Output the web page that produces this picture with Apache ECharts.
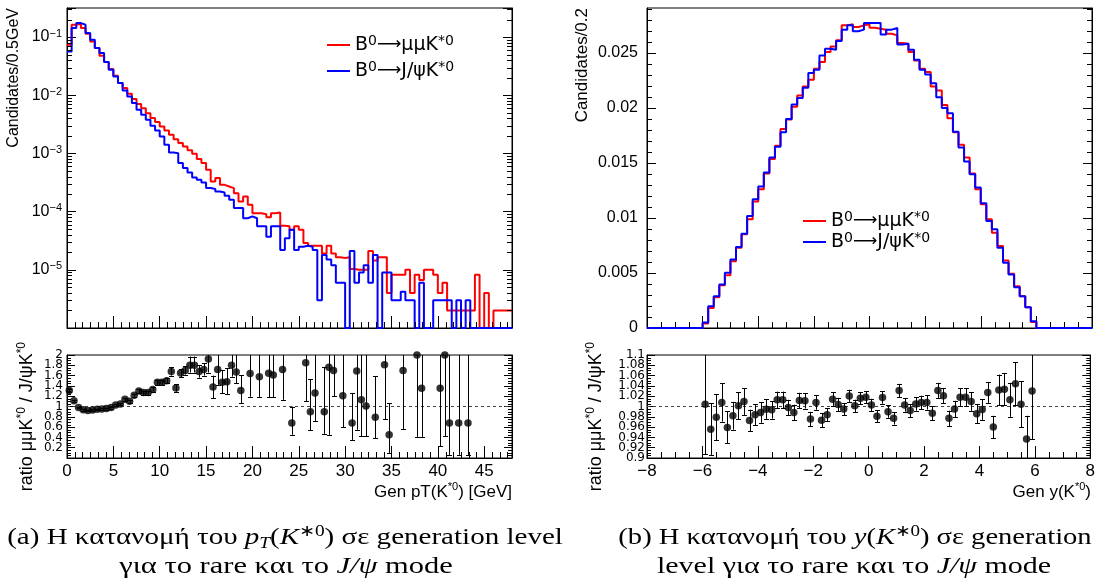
<!DOCTYPE html>
<html><head><meta charset="utf-8">
<script src="https://cdn.jsdelivr.net/npm/echarts@6/dist/echarts.min.js"></script>
<style>html,body{margin:0;padding:0;background:#fff;}#c{width:1098px;height:583px;}</style>
</head><body><div id="c"></div>
<script>
// ---------------- DATA ----------------
// pT histogram: 96 bins of 0.5 GeV from 0 to 48
const ptBinLow = 0, ptBinWidth = 0.5;
const ptRare = [0.0738,0.163,0.170,0.143,0.114,0.0843,0.0648,0.0478,0.0372,0.0282,
0.0216,0.0162,0.0133,0.0106,0.00859,0.00705,0.00601,0.00493,0.00405,0.00346,
0.00291,0.00248,0.00209,0.00176,0.00151,0.00132,0.00113,0.000987,0.000799,0.000682,
0.000524,0.00033,0.000377,0.000289,0.000271,0.000254,0.000208,0.00015,0.000182,0.000131,
9.4e-5,9.4e-5,9.0e-5,8.0e-5,9.4e-5,9.7e-5,5.7e-5,5.6e-5,4.9e-5,5.6e-5,
4.9e-5,2.9e-5,2.6e-5,2.6e-5,2.6e-5,1.9e-5,2.6e-5,1.9e-5,1.65e-5,1.6e-5,
1.65e-5,1.03e-5,1.0e-5,1.0e-5,1.0e-5,2.1e-5,1.45e-5,1.65e-5,1.65e-5,4.0e-6,
8.2e-6,8.2e-6,8.2e-6,1.0e-5,4.0e-6,8.2e-6,6.7e-6,1.0e-5,1.0e-5,8.2e-6,
4.0e-6,6.0e-6,2.0e-6,2.0e-6,2.0e-6,2.0e-6,2.0e-6,2.0e-6,8.2e-6,0,
4.0e-6,0,2.0e-6,2.0e-6,2.0e-6,2.0e-6];
const ptJpsi = [0.0568,0.143,0.174,0.163,0.117,0.090,0.0648,0.0531,0.0372,0.0274,
0.0211,0.0162,0.0121,0.00955,0.00733,0.00563,0.00462,0.00379,0.00299,0.00248,
0.00196,0.00141,0.00104,0.00101,0.000682,0.00056,0.000471,0.000386,0.000352,0.000317,
0.000254,0.000244,0.000222,0.000214,0.000187,0.00016,0.000115,0.000115,7.7e-5,8.3e-5,
7.7e-5,5.6e-5,5.6e-5,3.7e-5,5.6e-5,5.6e-5,2.2e-5,3.5e-5,4.9e-5,2.2e-5,
2.5e-5,2.6e-5,2.5e-5,2.2e-5,3.0e-6,1.8e-5,1.5e-5,1.2e-5,6.0e-6,6.0e-6,
0,2.1e-5,6.0e-6,9.0e-6,1.2e-5,6.0e-6,1.8e-5,0,9.0e-6,9.0e-6,
3.0e-6,3.0e-6,4.2e-6,3.0e-6,3.0e-6,0,6.0e-6,0,0,3.0e-6,
3.0e-6,3.0e-6,3.0e-6,0,3.0e-6,0,3.0e-6,0,0,0,
0,0,0,0,0,0];

// y histogram: 80 bins of 0.2 from -8 to 8
const yBinLow = -8, yBinWidth = 0.2;
const yRare = [0,0,0,0,0,0,0,0,0,0,
0.0004,0.00182,0.0028,0.00389,0.0048,0.00608,0.0073,0.00852,0.00988,0.0115,
0.01262,0.01405,0.01536,0.01658,0.0181,0.01895,0.02013,0.02114,0.02196,0.02257,
0.02357,0.02418,0.0251,0.0256,0.02616,0.02752,0.02762,0.02737,0.02752,0.02762,
0.02731,0.02722,0.02713,0.02676,0.02661,0.02591,0.02585,0.02509,0.02433,0.02357,
0.02327,0.02196,0.02159,0.02029,0.01907,0.01779,0.01667,0.01551,0.01405,0.01262,
0.01125,0.00988,0.00867,0.00745,0.00614,0.00493,0.0038,0.00289,0.00189,0.00055,
0,0,0,0,0,0,0,0,0,0];
const yJpsi = [0,0,0,0,0,0,0,0,0,0,
0.0005,0.00198,0.00289,0.00395,0.00502,0.00623,0.00736,0.00858,0.01019,0.01171,
0.01286,0.01414,0.01551,0.01648,0.01779,0.01901,0.02032,0.02092,0.02184,0.02318,
0.02348,0.02479,0.0254,0.0253,0.0261,0.02713,0.02752,0.02698,0.02713,0.02774,
0.02774,0.02774,0.0267,0.02713,0.02728,0.02579,0.02585,0.0253,0.02439,0.02348,
0.02305,0.02226,0.02099,0.02001,0.01953,0.01785,0.01642,0.01515,0.01399,0.01277,
0.01134,0.00973,0.00897,0.0073,0.00593,0.00487,0.00371,0.00289,0.00189,0.00061,
0,0,0,0,0,0,0,0,0,0];

// pT ratio points (x, value, lower end, upper end)
const ptRatioX = [0.25,0.75,1.25,1.75,2.25,2.75,3.25,3.75,4.25,4.75,5.25,5.75,6.25,6.75,7.25,7.75,8.25,8.75,9.25,9.75,
10.25,10.75,11.25,11.75,12.25,12.75,13.25,13.75,14.25,14.75,15.25,15.75,16.25,16.75,17.25,17.75,18.25,18.75,
19.75,20.75,21.75,22.25,23.25,24.25,25.75,26.25,26.75,27.75,28.25,28.75,29.75,30.75,31.25,31.75,32.25,33.25,
34.25,34.75,36.25,37.75,38.25,40.25,40.75,41.25,42.25,43.25];
const ptRatio = [1.31,1.11,0.98,0.935,0.92,0.93,0.945,0.95,0.96,0.98,
1.03,1.05,1.14,1.10,1.22,1.30,1.27,1.27,1.33,1.47,
1.47,1.50,1.68,1.36,1.65,1.70,1.80,1.80,1.68,1.72,
1.92,1.38,1.72,1.47,1.48,1.80,1.67,1.31,
1.64,1.58,1.645,1.61,1.72,0.68,1.85,0.90,1.26,0.90,1.76,1.70,1.21,0.68,1.69,1.13,1.01,0.79,1.81,0.45,1.70,2.0,1.355,1.355,2.0,0.68,0.68,0.68];
const ptRatioLo = [1.28,1.09,0.965,0.92,0.905,0.915,0.93,0.935,0.94,0.96,
1.01,1.03,1.11,1.07,1.19,1.26,1.23,1.23,1.29,1.42,
1.42,1.45,1.60,1.29,1.57,1.62,1.66,1.66,1.56,1.60,
1.66,1.16,1.42,1.26,1.24,1.58,1.45,1.06,
1.19,1.18,1.18,1.18,1.13,0.45,1.1,0.54,0.71,0.47,0.45,1.2,0.6,0.35,0.55,0.42,0.42,0.39,0.75,0.1,0.56,0.41,0.41,0.23,0.42,0.06,0.06,0.06];
const ptRatioHi = [1.34,1.13,0.995,0.95,0.935,0.945,0.96,0.965,0.98,1.0,
1.05,1.07,1.17,1.13,1.25,1.34,1.31,1.31,1.37,1.52,
1.52,1.56,1.76,1.43,1.73,1.78,1.97,1.97,1.80,1.84,
2.2,1.60,2.1,1.71,1.74,2.1,2.0,1.61,
2.2,2.2,2.2,2.2,2.3,1.0,2.6,1.53,2.2,1.77,2.5,2.5,2.2,1.26,2.5,2.2,2.2,1.59,2.5,1.06,2.5,3,2.5,2.5,3,2.5,2.5,2.5];

// y ratio points at bin centres from -5.9 to 5.9
const yRatioFirst = -5.9;
const yRatio = [1.0045,0.956,0.979,1.0077,0.9594,0.982,1.0013,1.0097,0.9729,0.984,
0.9884,0.9948,0.9935,1.0129,1.0129,0.998,0.9884,1.0116,1.011,0.9755,
1.0077,0.9735,0.984,1.0142,1.004,0.995,1.0206,1.0013,1.0161,1.018,
1.003,0.981,1.0174,0.990,0.977,1.031,1.003,0.992,1.005,1.008,
1.008,0.987,1.031,1.021,0.977,0.995,1.018,1.018,1.0097,0.986,
0.994,1.027,0.960,1.032,1.0335,1.013,1.044,1.0045,0.937,1.030];
const yRatioErr = [0.097,0.05,0.045,0.037,0.031,0.027,0.026,0.026,0.021,0.02,
0.02,0.019,0.017,0.016,0.016,0.015,0.015,0.015,0.015,0.014,
0.014,0.014,0.013,0.013,0.013,0.012,0.012,0.012,0.012,0.012,
0.012,0.012,0.012,0.012,0.012,0.013,0.013,0.013,0.013,0.013,
0.014,0.014,0.015,0.015,0.015,0.016,0.017,0.017,0.018,0.019,
0.02,0.02,0.022,0.03,0.031,0.033,0.042,0.045,0.045,0.093];

// axis ranges and ratio tick labels
const ptRange = [0, 48], yRange = [-8, 8];
const logRange = [1e-6, 0.3162];
const yHistMax = 0.0291;
const ratioPtRange = [0, 2], ratioYRange = [0.9, 1.1];
const ratioPtLabels = ['0.2','0.4','0.6','0.8','1','1.2','1.4','1.6','1.8','2'];
const ratioYLabels = ['0.9','0.92','0.94','0.96','0.98','1','1.02','1.04','1.06','1.08','1.1'];

// ---------------- HELPERS ----------------
const FONT = "'Liberation Sans', Arial, Helvetica, sans-serif";
const DV = "'DejaVu Sans', sans-serif";
const SERIF = "'Liberation Serif', 'Times New Roman', serif";
const RED = '#ff0000', BLUE = '#0000ff';
const NAME_RARE = 'B0→μμK*0', NAME_JPSI = 'B0→J/ψK*0';

function stepPoints(lo, w, vals, floor) {
  const pts = vals.map((v, i) => [+(lo + i * w).toFixed(6), floor != null ? Math.max(v, floor) : v]);
  pts.push([+(lo + vals.length * w).toFixed(6), pts[pts.length - 1][1]]);
  return pts;
}
function tickSeries(xi, yi, items) {
  return {
    type: 'custom', xAxisIndex: xi, yAxisIndex: yi, silent: true, clip: false, z: 5,
    data: items,
    renderItem: function (params, api) {
      const p = api.coord([api.value(0), api.value(1)]);
      const dx = api.value(2), dy = api.value(3);
      let x1 = p[0], y1 = p[1];
      if (dx === 0) x1 = Math.round(x1) + 0.5; else y1 = Math.round(y1) + 0.5;
      return { type: 'line', shape: { x1: x1, y1: y1, x2: x1 + dx, y2: y1 + dy },
        style: { stroke: '#000', lineWidth: 1 } };
    }
  };
}
// y-axis tick labels for the ratio pads, placed through the axis scale
function labelSeries(xi, yi, xPos, labels, gap) {
  return {
    type: 'custom', xAxisIndex: xi, yAxisIndex: yi, silent: true, clip: false, z: 5,
    data: labels.map((t) => [xPos, parseFloat(t)]),
    renderItem: function (params, api) {
      const p = api.coord([api.value(0), api.value(1)]);
      return { type: 'text', x: p[0] - gap, y: p[1],
        style: { text: labels[params.dataIndex], fontSize: 12, fontFamily: DV, fill: '#000', align: 'right', verticalAlign: 'middle' } };
    }
  };
}
function errSeries(xi, yi, items) {
  return {
    type: 'custom', xAxisIndex: xi, yAxisIndex: yi, silent: true, clip: true, z: 6,
    data: items,
    renderItem: function (params, api) {
      const x = api.value(0);
      const pl = api.coord([x, api.value(1)]), ph = api.coord([x, api.value(2)]);
      const cs = params.coordSys;
      const X = Math.round(pl[0]) + 0.5;
      const ch = [{ type: 'line', shape: { x1: X, y1: ph[1], x2: X, y2: pl[1] }, style: { stroke: '#000', lineWidth: 1 } }];
      if (ph[1] > cs.y + 1) ch.push({ type: 'line', shape: { x1: X - 2.5, y1: Math.round(ph[1]) + 0.5, x2: X + 2.5, y2: Math.round(ph[1]) + 0.5 }, style: { stroke: '#000', lineWidth: 1 } });
      if (pl[1] < cs.y + cs.height - 1) ch.push({ type: 'line', shape: { x1: X - 2.5, y1: Math.round(pl[1]) + 0.5, x2: X + 2.5, y2: Math.round(pl[1]) + 0.5 }, style: { stroke: '#000', lineWidth: 1 } });
      return { type: 'group', children: ch };
    }
  };
}

// minor tick positions (axis decoration)
const tk0 = [], tk1 = [], tk2 = [], tk3 = [];
for (let i = 1; i * 5 / 6 < ptRange[1]; i++) if (i % 6) { tk0.push([i * 5 / 6, logRange[0], 0, -6]); tk1.push([i * 5 / 6, 0, 0, -6]); }
for (let d = -6; d <= -1; d++) for (let m = 2; m <= 9; m++) { const v = m * Math.pow(10, d); if (v < logRange[1]) { tk0.push([ptRange[0], v, 5, 0]); tk0.push([ptRange[1], v, -5, 0]); } }
for (let i = 1; i < 40; i++) if (i % 4) { tk1.push([ptRange[0], i * 0.05, 4, 0]); tk1.push([ptRange[1], i * 0.05, -4, 0]); }
for (let i = 1; i < 32; i++) if (i % 4) { tk2.push([yRange[0] + i * 0.5, 0, 0, -6]); tk3.push([yRange[0] + i * 0.5, ratioYRange[0], 0, -6]); }
for (let i = 1; i * 0.001 < yHistMax; i++) if (i % 5) { tk2.push([yRange[0], i * 0.001, 5, 0]); tk2.push([yRange[1], i * 0.001, -5, 0]); }
for (let i = 1; i < 40; i++) if (i % 4) { const v = ratioYRange[0] + i * 0.005; tk3.push([yRange[0], v, 4, 0]); tk3.push([yRange[1], v, -4, 0]); }

// ---------------- OPTION ----------------
const axisBase = { axisLine: { show: true, onZero: false, lineStyle: { color: '#000', width: 1 } }, splitLine: { show: false } };
function xAx(grid, range, interval, labels, fmt, showMax) {
  return Object.assign({}, axisBase, {
    type: 'value', gridIndex: grid, min: range[0], max: range[1], interval: interval,
    axisTick: { show: true, inside: true, length: 12, lineStyle: { color: '#000' } },
    axisLabel: { show: labels, color: '#000', fontSize: 17, fontFamily: FONT, margin: 5, formatter: fmt, showMinLabel: true, showMaxLabel: showMax }
  });
}
function yAx(grid, type, range, interval, pos, labels, len, lab) {
  const a = Object.assign({}, axisBase, {
    type: type, gridIndex: grid, position: pos, min: range[0], max: range[1],
    axisTick: { show: true, inside: true, length: len, lineStyle: { color: '#000' } },
    axisLabel: Object.assign({ show: labels, color: '#000', fontFamily: FONT }, lab || {})
  });
  if (interval) a.interval = interval;
  return a;
}
const supRich = (s) => ({ s: { fontSize: s, fontFamily: FONT, color: '#000', verticalAlign: 'top', lineHeight: s } });
const legendFmt = (n) => n === NAME_RARE ? 'B{s|0}{a|⟶}μμK{s|*0}' : 'B{s|0}{a|⟶}J/ψK{s|*0}';
const legendBase = {
  orient: 'vertical', itemWidth: 23, itemHeight: 2, icon: 'rect', data: [NAME_RARE, NAME_JPSI],
  formatter: legendFmt, selectedMode: false,
  textStyle: { fontSize: 19, fontFamily: DV, color: '#000', lineHeight: 22,
    rich: {
      s: { fontSize: 14, fontFamily: DV, color: '#000', verticalAlign: 'top', lineHeight: 14 },
      a: { fontSize: 17, fontFamily: DV, color: '#000', lineHeight: 22 }
    } }
};

const option = {
  animation: false,
  backgroundColor: '#fff',
  grid: [
    { left: 67, top: 8, width: 445, height: 320, show: true, borderColor: '#000', borderWidth: 1 },
    { left: 67, top: 355, width: 445, height: 103, show: true, borderColor: '#000', borderWidth: 1 },
    { left: 647, top: 8, width: 445, height: 320, show: true, borderColor: '#000', borderWidth: 1 },
    { left: 647, top: 355, width: 445, height: 103, show: true, borderColor: '#000', borderWidth: 1 }
  ],
  xAxis: [
    xAx(0, ptRange, 5, false),
    xAx(1, ptRange, 5, true, null, false),
    xAx(2, yRange, 2, false),
    xAx(3, yRange, 2, true, (v) => v < 0 ? '\u2212' + (-v) : '' + v, true)
  ],
  yAxis: [
    yAx(0, 'log', logRange, null, 'left', true, 9, {
      fontSize: 16, margin: 5, lineHeight: 18, rich: supRich(11),
      formatter: (v) => { const l = Math.log10(v), e = Math.round(l); if (Math.abs(l - e) > 1e-6 || e <= -6 || e >= 0) return ''; return '10{s|\u2212' + (-e) + '}'; }
    }),
    yAx(0, 'log', logRange, null, 'right', false, 9),
    yAx(1, 'value', ratioPtRange, 0.2, 'left', false, 8),
    yAx(1, 'value', ratioPtRange, 0.2, 'right', false, 8),
    yAx(2, 'value', [0, yHistMax], 0.005, 'left', true, 9, { fontSize: 16, margin: 9, showMaxLabel: false }),
    yAx(2, 'value', [0, yHistMax], 0.005, 'right', false, 9),
    yAx(3, 'value', ratioYRange, 0.02, 'left', false, 8),
    yAx(3, 'value', ratioYRange, 0.02, 'right', false, 8)
  ],
  legend: [
    Object.assign({}, legendBase, { left: 322, top: 29, itemGap: 4 }),
    Object.assign({}, legendBase, { left: 798, top: 205, itemGap: -1 })
  ],
  series: [
    { type: 'line', name: NAME_RARE, xAxisIndex: 0, yAxisIndex: 0, step: 'end', symbol: 'none', color: RED,
      lineStyle: { color: RED, width: 2 }, data: stepPoints(ptBinLow, ptBinWidth, ptRare, logRange[0]), z: 3 },
    { type: 'line', name: NAME_JPSI, xAxisIndex: 0, yAxisIndex: 0, step: 'end', symbol: 'none', color: BLUE,
      lineStyle: { color: BLUE, width: 2 }, data: stepPoints(ptBinLow, ptBinWidth, ptJpsi, logRange[0]), z: 4 },
    { type: 'line', name: NAME_RARE, xAxisIndex: 2, yAxisIndex: 4, step: 'end', symbol: 'none', color: RED,
      lineStyle: { color: RED, width: 2 }, data: stepPoints(yBinLow, yBinWidth, yRare), z: 3 },
    { type: 'line', name: NAME_JPSI, xAxisIndex: 2, yAxisIndex: 4, step: 'end', symbol: 'none', color: BLUE,
      lineStyle: { color: BLUE, width: 2 }, data: stepPoints(yBinLow, yBinWidth, yJpsi), z: 4 },
    { type: 'scatter', xAxisIndex: 1, yAxisIndex: 2, symbol: 'circle', symbolSize: 7.5, itemStyle: { color: '#000' }, z: 7,
      data: ptRatioX.map((x, i) => [x, ptRatio[i]]),
      markLine: { silent: true, symbol: 'none', label: { show: false }, lineStyle: { color: '#444', width: 1, type: [3, 3] }, data: [{ yAxis: 1 }] } },
    errSeries(1, 2, ptRatioX.map((x, i) => [x, ptRatioLo[i], ptRatioHi[i]])),
    { type: 'scatter', xAxisIndex: 3, yAxisIndex: 6, symbol: 'circle', symbolSize: 7.5, itemStyle: { color: '#000' }, z: 7,
      data: yRatio.map((v, i) => [+(yRatioFirst + i * yBinWidth).toFixed(3), v]),
      markLine: { silent: true, symbol: 'none', label: { show: false }, lineStyle: { color: '#444', width: 1, type: [3, 3] }, data: [{ yAxis: 1 }] } },
    errSeries(3, 6, yRatio.map((v, i) => [+(yRatioFirst + i * yBinWidth).toFixed(3), v - yRatioErr[i], v + yRatioErr[i]])),
    tickSeries(0, 0, tk0), tickSeries(1, 2, tk1), tickSeries(2, 4, tk2), tickSeries(3, 6, tk3),
    labelSeries(1, 2, ptRange[0], ratioPtLabels, 4),
    labelSeries(3, 6, yRange[0], ratioYLabels, 2)
  ],
  graphic: []
};

// texts
const gSup = (s, fam) => ({ fontSize: s, fontFamily: fam || FONT, fill: '#000', verticalAlign: 'top', lineHeight: s });
function vText(x, y, text, size, rich) {
  return { type: 'text', x: x, y: y, rotation: Math.PI / 2, silent: true,
    style: { text: text, fontSize: size, fontFamily: FONT, fill: '#000', align: 'right', verticalAlign: 'middle', lineHeight: size + 4, rich: rich } };
}
function hText(x, y, text, size, align, fam, rich, sx) {
  return { type: 'text', x: x, y: y, scaleX: sx || 1, silent: true,
    style: { text: text, fontSize: size, fontFamily: fam || FONT, fill: '#000', align: align, verticalAlign: 'middle', lineHeight: size + 4, rich: rich } };
}
const ratioTitle = 'ratio μμK{s|*0} / J/ψK{s|*0}';
const CAP = 24;
const capRich = {
  i: { fontSize: CAP, fontFamily: SERIF, fontStyle: 'italic', fill: '#000', lineHeight: CAP + 4 },
  sub: { fontSize: 16, fontFamily: SERIF, fontStyle: 'italic', fill: '#000', verticalAlign: 'bottom', lineHeight: 16 },
  sup: { fontSize: 16, fontFamily: SERIF, fill: '#000', verticalAlign: 'top', lineHeight: 16 }
};
option.graphic = [
  vText(14, 8, 'Candidates/0.5GeV', 16),
  vText(582, 8, 'Candidates/0.2', 17),
  vText(27, 342, ratioTitle, 18, { s: gSup(12) }),
  vText(596, 342, ratioTitle, 18, { s: gSup(12) }),
  hText(512, 492, 'Gen pT(K{s|*0}) [GeV]', 17, 'right', FONT, { s: gSup(11) }),
  hText(1091, 492, 'Gen y(K{s|*0})', 17, 'right', FONT, { s: gSup(11) }),
  hText(285, 538, '(a) Η κατανομή του {i|p}{sub|T}({i|K}{sup|∗0}) σε generation level', CAP, 'center', SERIF, capRich, 1.21),
  hText(286, 567, 'για το rare και το {i|J/ψ} mode', CAP, 'center', SERIF, capRich, 1.27),
  hText(855, 538, '(b) Η κατανομή του {i|y}({i|K}{sup|∗0}) σε generation', CAP, 'center', SERIF, capRich, 1.19),
  hText(854, 567, 'level για το rare και το {i|J/ψ} mode', CAP, 'center', SERIF, capRich, 1.25)
];

const chart = echarts.init(document.getElementById('c'), null, { renderer: 'canvas' });
chart.setOption(option);
</script></body></html>
